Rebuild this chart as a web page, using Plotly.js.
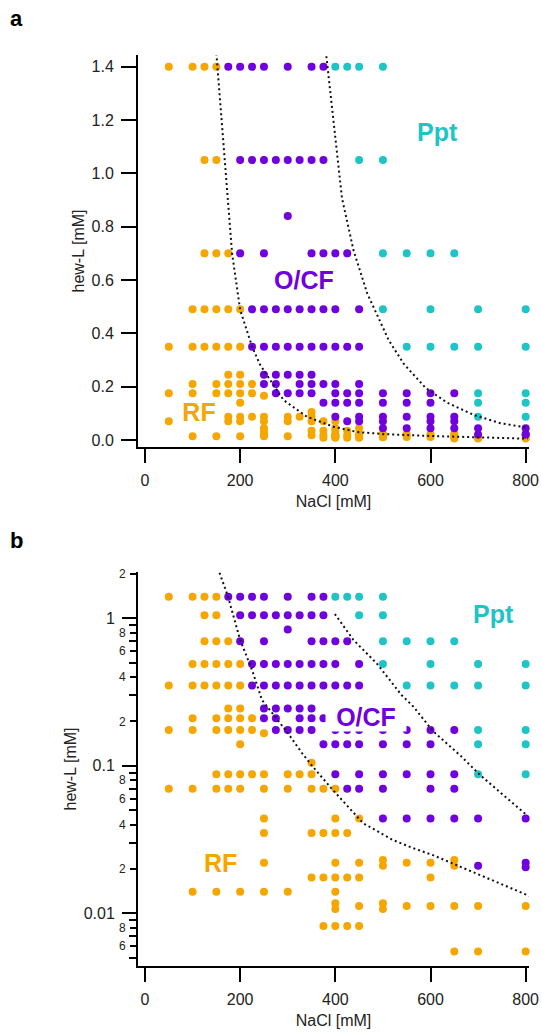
<!DOCTYPE html>
<html>
<head>
<meta charset="utf-8">
<script src="https://cdn.plot.ly/plotly-3.0.1.min.js"></script>
<style>html,body{margin:0;padding:0;background:#fff;}#chart{width:542px;height:1032px;}</style>
</head>
<body>
<div id="chart"></div>
<script>
// ---------- data (NaCl [mM], hew-L [mM]) ----------
const rfNaCl = [
  50,100,125,150,
  125,150,
  125,150,175,
  100,125,150,175,200,
  50,100,125,150,175,200,
  175,200,
  100,150,175,200,225,
  50,100,150,175,200,225,
  250,
  200,
  350,
  150,175,200,225,250,300,325,350,
  50,100,150,175,200,250,300,350,375,400,
  250,400,450,
  250,350,375,400,425,
  250,400,450,550,600,
  500,650,
  500,650,
  350,375,400,425,450,600,
  100,150,200,250,300,400,
  450,550,600,650,700,800,
  400,500,
  400,500,
  375,400,425,450,
  650,700,800
];
const rfHewL = [
  1.4,1.4,1.4,1.4,
  1.05,1.05,
  0.7,0.7,0.7,
  0.49,0.49,0.49,0.49,0.49,
  0.35,0.35,0.35,0.35,0.35,0.35,
  0.245,0.245,
  0.21,0.21,0.21,0.21,0.21,
  0.175,0.175,0.175,0.175,0.175,0.175,
  0.166,
  0.14,
  0.105,
  0.0875,0.0875,0.0875,0.0875,0.0875,0.0875,0.0875,0.0875,
  0.07,0.07,0.07,0.07,0.07,0.07,0.07,0.07,0.07,0.07,
  0.044,0.044,0.044,
  0.035,0.035,0.035,0.035,0.035,
  0.022,0.022,0.022,0.022,0.022,
  0.021,0.021,
  0.023,0.023,
  0.0175,0.0175,0.0175,0.0175,0.0175,0.0175,
  0.014,0.014,0.014,0.014,0.014,0.014,
  0.0112,0.0112,0.0112,0.0112,0.0112,0.0112,
  0.0107,0.0107,
  0.0117,0.0117,
  0.0082,0.0082,0.0082,0.0082,
  0.0055,0.0055,0.0055
];
const ocfNaCl = [
  175,200,225,250,300,350,375,
  200,225,250,275,300,325,350,375,
  300,
  200,250,350,375,400,425,
  225,250,275,300,325,350,375,400,450,
  225,250,275,300,325,350,375,400,425,450,
  250,275,300,325,350,
  250,275,325,350,375,400,450,
  275,300,325,350,400,425,450,500,550,600,650,
  375,400,425,450,500,550,600,
  400,450,500,550,600,650,
  425,450,500,600,650,
  500,550,600,650,700,800,
  700,800,
  800
];
const ocfHewL = [
  1.4,1.4,1.4,1.4,1.4,1.4,1.4,
  1.05,1.05,1.05,1.05,1.05,1.05,1.05,1.05,
  0.84,
  0.7,0.7,0.7,0.7,0.7,0.7,
  0.49,0.49,0.49,0.49,0.49,0.49,0.49,0.49,0.49,
  0.35,0.35,0.35,0.35,0.35,0.35,0.35,0.35,0.35,0.35,
  0.245,0.245,0.245,0.245,0.245,
  0.21,0.21,0.21,0.21,0.21,0.21,0.21,
  0.175,0.175,0.175,0.175,0.175,0.175,0.175,0.175,0.175,0.175,0.175,
  0.14,0.14,0.14,0.14,0.14,0.14,0.14,
  0.0875,0.0875,0.0875,0.0875,0.0875,0.0875,
  0.07,0.07,0.07,0.07,0.07,
  0.044,0.044,0.044,0.044,0.044,0.044,
  0.021,0.0205,
  0.022
];
const pptNaCl = [
  400,425,450,500,
  450,500,
  500,550,600,650,
  500,600,700,800,
  550,600,650,700,800,
  700,800,
  700,800,
  700,800
];
const pptHewL = [
  1.4,1.4,1.4,1.4,
  1.05,1.05,
  0.7,0.7,0.7,0.7,
  0.49,0.49,0.49,0.49,
  0.35,0.35,0.35,0.35,0.35,
  0.175,0.175,
  0.14,0.14,
  0.0875,0.0875
];

// phase boundaries (linear) and panel b (log)
const aLowNaCl  = [150, 173, 183, 200, 225, 242, 267, 291, 340, 396, 446, 502, 600, 700, 804];
const aLowHewL  = [1.45, 0.907, 0.70, 0.488, 0.35, 0.282, 0.213, 0.150, 0.0875, 0.05, 0.03, 0.022, 0.015, 0.009, 0.005];
const aHighNaCl = [380, 414, 438, 467, 512, 544, 590, 635, 691, 747, 804];
const aHighHewL = [1.458, 0.907, 0.713, 0.55, 0.375, 0.285, 0.195, 0.14, 0.094, 0.063, 0.046];
const bLowNaCl  = [153, 174, 200, 225, 246, 275, 300, 330, 353, 395, 458, 521, 563, 605, 813];
const bLowHewL  = [2.19, 1.42, 0.713, 0.446, 0.279, 0.211, 0.167, 0.122, 0.0982, 0.0685, 0.0409, 0.0314, 0.0277, 0.0248, 0.0129];
const bHighNaCl = [399, 438, 487, 539, 564, 605, 662, 704, 802];
const bHighHewL = [1.07, 0.713, 0.495, 0.302, 0.252, 0.172, 0.118, 0.0867, 0.0464];

const phaseNames  = ['RF', 'O/CF', 'Ppt'];
const phaseColors = ['#F5A600', '#7000DD', '#1FC4C6'];

const xTicks = [0, 200, 400, 600, 800];
const logMajorVals = [1, 0.1, 0.01];
const logMajorText = ['1', '0.1', '0.01'];
const logMinorLabVals = [2, 0.8, 0.6, 0.4, 0.2, 0.08, 0.06, 0.04, 0.02, 0.008, 0.006];
const logMinorLabText = ['2', '8', '6', '4', '2', '8', '6', '4', '2', '8', '6'];
const logMinorVals = [0.9, 0.7, 0.5, 0.3, 0.09, 0.07, 0.05, 0.03, 0.009, 0.007, 0.005];

// ---------- traces ----------
const FONT = 'Liberation Sans, Arial, sans-serif';
const phaseX = [rfNaCl, ocfNaCl, pptNaCl];
const phaseY = [rfHewL, ocfHewL, pptHewL];
const traces = [];
[['x', 'y'], ['x2', 'y2']].forEach(([xa, ya]) => {
  for (let i = 0; i < 3; i++) {
    traces.push({
      type: 'scatter', mode: 'markers', name: phaseNames[i],
      x: phaseX[i], y: phaseY[i], xaxis: xa, yaxis: ya,
      marker: {color: phaseColors[i], size: 8, line: {width: 0}},
      hoverinfo: 'x+y+name', cliponaxis: false
    });
  }
});
const dotLine = {color: '#111', width: 2, dash: '2px,3px'};
[[aLowNaCl, aLowHewL, 'x', 'y'], [aHighNaCl, aHighHewL, 'x', 'y'],
 [bLowNaCl, bLowHewL, 'x2', 'y2'], [bHighNaCl, bHighHewL, 'x2', 'y2']].forEach(([xs, ys, xa, ya]) => {
  traces.push({type: 'scatter', mode: 'lines', x: xs, y: ys, xaxis: xa, yaxis: ya,
    line: dotLine, hoverinfo: 'skip', showlegend: false});
});
// dummy trace to instantiate the minor-label axis
traces.push({type: 'scatter', mode: 'markers', x: [null], y: [null], xaxis: 'x2', yaxis: 'y3', hoverinfo: 'skip', showlegend: false});

// ---------- layout ----------
const W = 542, H = 1032;
const xDom = [138 / W, 529 / W];
const xRange = [-14.7, 807];
const baseAxis = {
  showline: true, linecolor: '#000', linewidth: 2, mirror: false,
  ticks: 'outside', tickcolor: '#000', tickwidth: 2,
  showgrid: false, zeroline: false, fixedrange: true,
  tickfont: {family: FONT, size: 16, color: '#222'}
};
const xAxisCommon = Object.assign({}, baseAxis, {
  domain: xDom, range: xRange, tickmode: 'array', tickvals: xTicks,
  ticklen: 14, ticklabelstandoff: 4,
  title: {text: 'NaCl [mM]', font: {family: FONT, size: 16, color: '#222'}, standoff: 8}
});
const yTitle = {text: 'hew-L [mM]', font: {family: FONT, size: 16, color: '#222'}, standoff: 3};

const layout = {
  width: W, height: H,
  margin: {l: 0, r: 0, t: 0, b: 0, pad: 0},
  paper_bgcolor: '#fff', plot_bgcolor: '#fff',
  showlegend: false,
  font: {family: FONT, color: '#222'},
  xaxis: Object.assign({}, xAxisCommon, {anchor: 'y'}),
  yaxis: Object.assign({}, baseAxis, {
    anchor: 'x', domain: [(H - 447) / H, (H - 55) / H], range: [-0.02626, 1.444],
    tickmode: 'linear', tick0: 0, dtick: 0.2, tickformat: '.1f', ticklen: 15, ticklabelstandoff: 4,
    title: yTitle
  }),
  xaxis2: Object.assign({}, xAxisCommon, {anchor: 'y2'}),
  yaxis2: Object.assign({}, baseAxis, {
    anchor: 'x2', domain: [(H - 966) / H, (H - 572) / H], type: 'log', range: [-2.3573, 0.3139],
    tickmode: 'array', tickvals: logMajorVals, ticktext: logMajorText, ticklen: 14, ticklabelstandoff: 4,
    minor: {tickmode: 'array', tickvals: logMinorVals, ticks: 'outside', ticklen: 7, tickwidth: 2, tickcolor: '#000', showgrid: false},
    title: yTitle
  }),
  yaxis3: Object.assign({}, baseAxis, {
    overlaying: 'y2', anchor: 'x2', side: 'left', type: 'log', range: [-2.3573, 0.3139],
    showline: false, tickmode: 'array', tickvals: logMinorLabVals, ticktext: logMinorLabText,
    ticklen: 7, ticklabelstandoff: 2, tickfont: {family: FONT, size: 12, color: '#222'}
  }),
  annotations: [
    {xref: 'paper', yref: 'paper', x: 16 / W, y: 1 - 18 / H, text: '<b>a</b>', showarrow: false,
     font: {family: FONT, size: 22, color: '#000'}, xanchor: 'center', yanchor: 'middle'},
    {xref: 'paper', yref: 'paper', x: 16 / W, y: 1 - 540 / H, text: '<b>b</b>', showarrow: false,
     font: {family: FONT, size: 22, color: '#000'}, xanchor: 'center', yanchor: 'middle'},
    // panel a region labels
    {xref: 'x', yref: 'y', x: 614, y: 1.155, text: '<b>Ppt</b>', showarrow: false,
     font: {family: FONT, size: 25, color: phaseColors[2]}},
    {xref: 'x', yref: 'y', x: 334, y: 0.60, text: '<b>O/CF</b>', showarrow: false,
     font: {family: FONT, size: 25, color: phaseColors[1]}},
    {xref: 'x', yref: 'y', x: 113, y: 0.104, text: '<b>RF</b>', showarrow: false,
     font: {family: FONT, size: 25, color: phaseColors[0]}, bgcolor: '#fff', width: 44, height: 28, borderpad: 0},
    // panel b region labels (log axis: y in log10 units)
    {xref: 'x2', yref: 'y2', x: 733, y: 0.029, text: '<b>Ppt</b>', showarrow: false,
     font: {family: FONT, size: 25, color: phaseColors[2]}},
    {xref: 'x2', yref: 'y2', x: 464, y: -0.667, text: '<b>O/CF</b>', showarrow: false,
     font: {family: FONT, size: 25, color: phaseColors[1]}, bgcolor: '#fff', width: 80, height: 28, borderpad: 0},
    {xref: 'x2', yref: 'y2', x: 158, y: -1.659, text: '<b>RF</b>', showarrow: false,
     font: {family: FONT, size: 25, color: phaseColors[0]}}
  ]
};

Plotly.newPlot('chart', traces, layout, {displayModeBar: false, staticPlot: true});
</script>
</body>
</html>
